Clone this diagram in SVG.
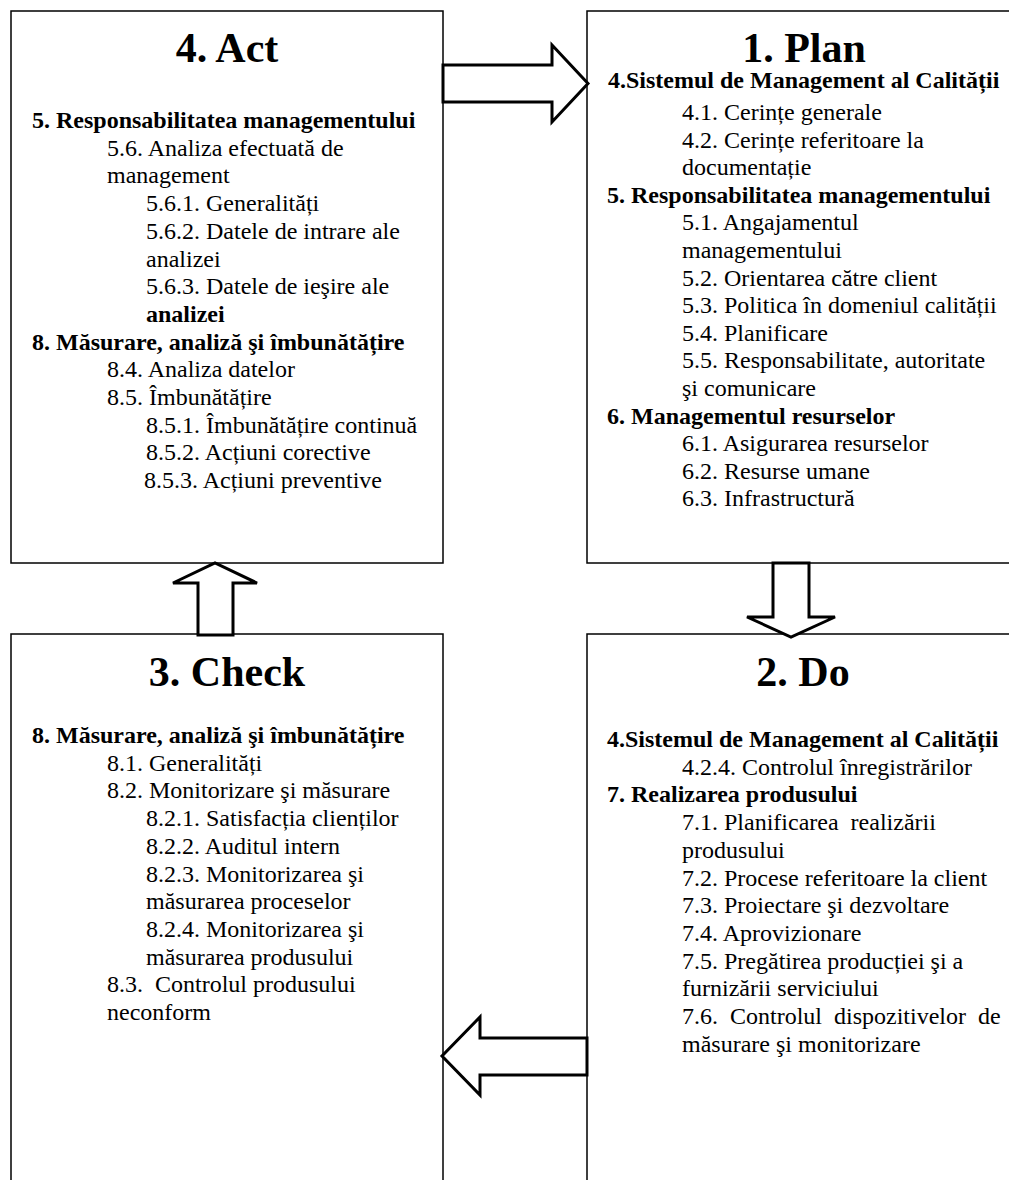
<svg xmlns="http://www.w3.org/2000/svg" width="1009" height="1180" viewBox="0 0 1009 1180">
<style>
  .box { fill: #fff; stroke: #000; stroke-width: 1.5; }
  .arrow { fill: #fff; stroke: #000; stroke-width: 3; stroke-linejoin: miter; }
  text { font-family: "Liberation Serif", "Times New Roman", serif; fill: #000; }
  .title { font-size: 42px; font-weight: bold; text-anchor: middle; }
  .t { font-size: 24px; }
  .b { font-size: 24px; font-weight: bold; }
</style>
<rect width="1009" height="1180" fill="#fff"/>

<g id="act">
  <rect class="box" x="11" y="11" width="432" height="552"/>
  <text class="title" x="227" y="62">4. Act</text>
  <text class="b" x="32" y="128">5. Responsabilitatea managementului</text>
  <text class="t" x="107" y="155.7">5.6. Analiza efectuată de</text>
  <text class="t" x="107" y="183.4">management</text>
  <text class="t" x="146" y="211.1">5.6.1. Generalități</text>
  <text class="t" x="146" y="238.8">5.6.2. Datele de intrare ale</text>
  <text class="t" x="146" y="266.5">analizei</text>
  <text class="t" x="146" y="294.2">5.6.3. Datele de ieşire ale</text>
  <text class="b" x="146" y="321.9">analizei</text>
  <text class="b" x="32" y="349.6">8. Măsurare, analiză şi îmbunătățire</text>
  <text class="t" x="107" y="377.3">8.4. Analiza datelor</text>
  <text class="t" x="107" y="405">8.5. Îmbunătățire</text>
  <text class="t" x="146" y="432.7">8.5.1. Îmbunătățire continuă</text>
  <text class="t" x="146" y="460.4">8.5.2. Acțiuni corective</text>
  <text class="t" x="144" y="488.1">8.5.3. Acțiuni preventive</text>
</g>

<g id="plan">
  <rect class="box" x="587" y="11" width="440" height="552"/>
  <text class="title" x="804" y="62">1. Plan</text>
  <text class="b" x="608" y="88">4.Sistemul de Management al Calității</text>
  <text class="t" x="682" y="120">4.1. Cerințe generale</text>
  <text class="t" x="682" y="147.6">4.2. Cerințe referitoare la</text>
  <text class="t" x="682" y="175.2">documentație</text>
  <text class="b" x="607" y="202.8">5. Responsabilitatea managementului</text>
  <text class="t" x="682" y="230.4">5.1. Angajamentul</text>
  <text class="t" x="682" y="258">managementului</text>
  <text class="t" x="682" y="285.6">5.2. Orientarea către client</text>
  <text class="t" x="682" y="313.2">5.3. Politica în domeniul calității</text>
  <text class="t" x="682" y="340.8">5.4. Planificare</text>
  <text class="t" x="682" y="368.4">5.5. Responsabilitate, autoritate</text>
  <text class="t" x="682" y="396">şi comunicare</text>
  <text class="b" x="607" y="423.6">6. Managementul resurselor</text>
  <text class="t" x="682" y="451.2">6.1. Asigurarea resurselor</text>
  <text class="t" x="682" y="478.8">6.2. Resurse umane</text>
  <text class="t" x="682" y="506.4">6.3. Infrastructură</text>
</g>

<g id="check">
  <rect class="box" x="11" y="634" width="432" height="560"/>
  <text class="title" x="227" y="686">3. Check</text>
  <text class="b" x="32" y="743">8. Măsurare, analiză şi îmbunătățire</text>
  <text class="t" x="107" y="770.7">8.1. Generalități</text>
  <text class="t" x="107" y="798.4">8.2. Monitorizare şi măsurare</text>
  <text class="t" x="146" y="826.1">8.2.1. Satisfacția clienților</text>
  <text class="t" x="146" y="853.8">8.2.2. Auditul intern</text>
  <text class="t" x="146" y="881.5">8.2.3. Monitorizarea şi</text>
  <text class="t" x="146" y="909.2">măsurarea proceselor</text>
  <text class="t" x="146" y="936.9">8.2.4. Monitorizarea şi</text>
  <text class="t" x="146" y="964.6">măsurarea produsului</text>
  <text class="t" x="107" y="992.3" xml:space="preserve">8.3.  Controlul produsului</text>
  <text class="t" x="107" y="1020">neconform</text>
</g>

<g id="do">
  <rect class="box" x="587" y="634" width="440" height="560"/>
  <text class="title" x="803" y="686">2. Do</text>
  <text class="b" x="607" y="747">4.Sistemul de Management al Calității</text>
  <text class="t" x="682" y="774.7">4.2.4. Controlul înregistrărilor</text>
  <text class="b" x="607" y="802.4">7. Realizarea produsului</text>
  <text class="t" x="682" y="830.1" xml:space="preserve">7.1. Planificarea  realizării</text>
  <text class="t" x="682" y="857.8">produsului</text>
  <text class="t" x="682" y="885.5">7.2. Procese referitoare la client</text>
  <text class="t" x="682" y="913.2">7.3. Proiectare şi dezvoltare</text>
  <text class="t" x="682" y="940.9">7.4. Aprovizionare</text>
  <text class="t" x="682" y="968.6">7.5. Pregătirea producției şi a</text>
  <text class="t" x="682" y="996.3">furnizării serviciului</text>
  <text class="t" x="682" y="1024" word-spacing="6">7.6. Controlul dispozitivelor de</text>
  <text class="t" x="682" y="1051.7">măsurare şi monitorizare</text>
</g>

<g id="connectors">
  <polygon class="arrow" points="443,65 552,65 552,45 588,83.5 552,122 552,102 443,102"/>
  <polygon class="arrow" points="773,563 809,563 809,617 835,617 791,637 747,617 773,617"/>
  <polygon class="arrow" points="587,1038 480,1038 480,1017 442,1056 480,1095 480,1075 587,1075"/>
  <polygon class="arrow" points="198,635 233,635 233,583 257,583 215,563 173,583 198,583"/>
</g>
</svg>
